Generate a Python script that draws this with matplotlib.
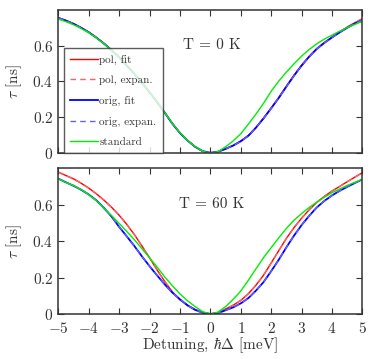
import matplotlib
matplotlib.use('Agg')
import matplotlib.pyplot as plt
from matplotlib.ticker import FuncFormatter, MultipleLocator

plt.rcParams['font.family'] = 'serif'
plt.rcParams['font.serif'] = ['cmr10', 'DejaVu Serif']
plt.rcParams['mathtext.fontset'] = 'cm'
plt.rcParams['axes.unicode_minus'] = False

# detuning grid (meV), step 0.25
detuning = [-5.0, -4.75, -4.5, -4.25, -4.0, -3.75, -3.5, -3.25, -3.0, -2.75, -2.5,
            -2.25, -2.0, -1.75, -1.5, -1.25, -1.0, -0.75, -0.5, -0.25, 0.0,
            0.25, 0.5, 0.75, 1.0, 1.25, 1.5, 1.75, 2.0, 2.25, 2.5,
            2.75, 3.0, 3.25, 3.5, 3.75, 4.0, 4.25, 4.5, 4.75, 5.0]

# T = 0 K
pol_fit_0 = [0.755, 0.74, 0.722, 0.70, 0.675, 0.645, 0.612, 0.575, 0.535, 0.49, 0.443,
             0.393, 0.34, 0.285, 0.226, 0.165, 0.113, 0.07, 0.035, 0.01, 0.0,
             0.007, 0.023, 0.043, 0.068, 0.098, 0.143, 0.195, 0.252, 0.31, 0.373,
             0.434, 0.49, 0.54, 0.583, 0.617, 0.647, 0.676, 0.703, 0.727, 0.75]
pol_expan_0 = [0.755, 0.74, 0.722, 0.70, 0.675, 0.645, 0.612, 0.575, 0.535, 0.49, 0.443,
               0.393, 0.34, 0.285, 0.226, 0.165, 0.113, 0.07, 0.035, 0.01, 0.0,
               0.007, 0.023, 0.043, 0.068, 0.098, 0.143, 0.195, 0.252, 0.31, 0.373,
               0.434, 0.49, 0.54, 0.583, 0.617, 0.647, 0.676, 0.703, 0.727, 0.75]
orig_fit_0 = [0.754, 0.739, 0.721, 0.699, 0.674, 0.644, 0.611, 0.574, 0.534, 0.489, 0.442,
              0.392, 0.339, 0.284, 0.225, 0.164, 0.112, 0.07, 0.035, 0.011, 0.002,
              0.008, 0.024, 0.042, 0.066, 0.097, 0.142, 0.194, 0.25, 0.308, 0.371,
              0.432, 0.488, 0.538, 0.581, 0.615, 0.645, 0.673, 0.699, 0.722, 0.742]
orig_expan_0 = [0.754, 0.739, 0.721, 0.699, 0.674, 0.644, 0.611, 0.574, 0.534, 0.489, 0.442,
                0.392, 0.339, 0.284, 0.225, 0.164, 0.112, 0.07, 0.035, 0.011, 0.002,
                0.008, 0.024, 0.042, 0.066, 0.097, 0.142, 0.194, 0.25, 0.308, 0.371,
                0.432, 0.488, 0.538, 0.581, 0.615, 0.645, 0.673, 0.699, 0.722, 0.742]
standard_0 = [0.748, 0.733, 0.716, 0.695, 0.672, 0.643, 0.61, 0.574, 0.534, 0.49, 0.443,
              0.393, 0.34, 0.285, 0.226, 0.166, 0.114, 0.071, 0.036, 0.01, 0.0,
              0.008, 0.035, 0.068, 0.108, 0.162, 0.218, 0.278, 0.345, 0.402, 0.452,
              0.498, 0.541, 0.578, 0.61, 0.636, 0.658, 0.68, 0.70, 0.718, 0.735]

# T = 60 K
pol_fit_60 = [0.779, 0.76, 0.742, 0.718, 0.691, 0.66, 0.625, 0.586, 0.542, 0.492, 0.436,
              0.373, 0.308, 0.241, 0.178, 0.121, 0.078, 0.047, 0.024, 0.008, 0.0,
              0.006, 0.027, 0.048, 0.074, 0.111, 0.158, 0.213, 0.28, 0.348, 0.415,
              0.474, 0.526, 0.572, 0.613, 0.646, 0.675, 0.70, 0.726, 0.751, 0.776]
pol_expan_60 = [0.779, 0.76, 0.742, 0.718, 0.691, 0.66, 0.625, 0.586, 0.542, 0.492, 0.436,
                0.373, 0.308, 0.241, 0.178, 0.121, 0.078, 0.047, 0.024, 0.008, 0.0,
                0.006, 0.027, 0.048, 0.074, 0.111, 0.158, 0.213, 0.28, 0.348, 0.415,
                0.474, 0.526, 0.572, 0.613, 0.646, 0.675, 0.70, 0.726, 0.751, 0.776]
orig_fit_60 = [0.743, 0.723, 0.704, 0.682, 0.656, 0.624, 0.582, 0.535, 0.478, 0.426, 0.373,
               0.316, 0.262, 0.211, 0.162, 0.117, 0.08, 0.047, 0.022, 0.006, 0.0,
               0.004, 0.02, 0.036, 0.058, 0.087, 0.128, 0.175, 0.235, 0.298, 0.366,
               0.43, 0.488, 0.539, 0.585, 0.621, 0.651, 0.676, 0.698, 0.719, 0.739]
orig_expan_60 = [0.743, 0.723, 0.704, 0.682, 0.656, 0.624, 0.582, 0.535, 0.478, 0.426, 0.373,
                 0.316, 0.262, 0.211, 0.162, 0.117, 0.08, 0.047, 0.022, 0.006, 0.0,
                 0.004, 0.02, 0.036, 0.058, 0.087, 0.128, 0.175, 0.235, 0.298, 0.366,
                 0.43, 0.488, 0.539, 0.585, 0.621, 0.651, 0.676, 0.698, 0.719, 0.739]
standard_60 = [0.742, 0.722, 0.705, 0.683, 0.655, 0.622, 0.58, 0.54, 0.497, 0.453, 0.408,
               0.358, 0.308, 0.257, 0.203, 0.155, 0.11, 0.072, 0.04, 0.012, 0.0,
               0.01, 0.04, 0.08, 0.126, 0.185, 0.248, 0.31, 0.364, 0.418, 0.47,
               0.515, 0.551, 0.585, 0.614, 0.641, 0.666, 0.686, 0.706, 0.723, 0.739]

labels = ['pol, fit', 'pol, expan.', 'orig, fit', 'orig, expan.', 'standard']
panels = [
    ('T = 0 K', [pol_fit_0, pol_expan_0, orig_fit_0, orig_expan_0, standard_0]),
    ('T = 60 K', [pol_fit_60, pol_expan_60, orig_fit_60, orig_expan_60, standard_60]),
]
styles = [
    dict(color='#ff0000', ls='-', lw=1.0),
    dict(color='#ff6060', ls=(0, (4, 3)), lw=1.0),
    dict(color='#0000ff', ls='-', lw=1.3),
    dict(color='#6060ff', ls=(0, (4, 3)), lw=1.0),
    dict(color='#00ee00', ls='-', lw=1.0),
]

fig = plt.figure(figsize=(3.74, 3.59), dpi=100)
ax_top = fig.add_axes([0.156, 0.5735, 0.813, 0.3995])
ax_bot = fig.add_axes([0.156, 0.1256, 0.813, 0.4056])

fmt = FuncFormatter(lambda v, p: '$%g$' % round(v, 3))

for ax, (title, series) in zip([ax_top, ax_bot], panels):
    for data, lab, st in zip(series, labels, styles):
        ax.plot(detuning, data, label=lab, **st)
    ax.set_xlim(-5, 5)
    ax.set_ylim(0, 0.8)
    ax.xaxis.set_major_locator(MultipleLocator(1))
    ax.set_yticks([0, 0.2, 0.4, 0.6])
    ax.xaxis.set_major_formatter(fmt)
    ax.yaxis.set_major_formatter(fmt)
    ax.tick_params(direction='in', top=True, right=True, length=4, width=0.8,
                   labelsize=11, colors='#333333')
    ax.tick_params(axis='x', pad=5)
    for sp in ax.spines.values():
        sp.set_color('#333333')
        sp.set_linewidth(1.1)
    ax.set_ylabel(r'$\tau$ [ns]', fontsize=11, color='#333333', labelpad=6)
    ax.text(0.05, 0.605, title, fontsize=11, color='#333333', ha='center', va='center')

ax_top.tick_params(labelbottom=False)
ax_bot.set_xlabel(r'Detuning, $\hbar\Delta$ [meV]', fontsize=11, color='#333333', labelpad=0)

leg = ax_top.legend(loc='upper left', bbox_to_anchor=(0.018, 0.73), fontsize=8,
                    frameon=True, fancybox=False, edgecolor='#333333',
                    handlelength=2.5, labelspacing=0.95, borderpad=0.55,
                    handletextpad=0.15, borderaxespad=0)
leg.get_frame().set_linewidth(1.0)
for t in leg.get_texts():
    t.set_color('#333333')

fig.savefig('out.png', dpi=100)
